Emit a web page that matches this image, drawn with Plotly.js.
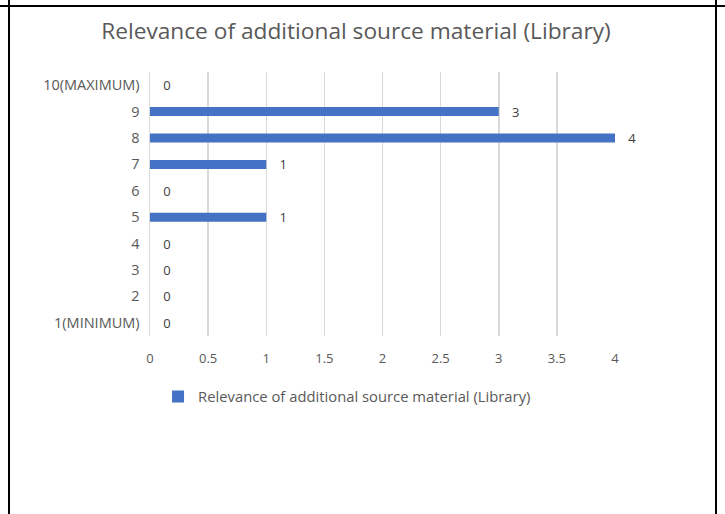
<!DOCTYPE html>
<html>
<head>
<meta charset="utf-8">
<script src="https://cdn.plot.ly/plotly-3.0.1.min.js"></script>
<style>
  html, body { margin: 0; padding: 0; background: #fff; }
  #wrap { position: relative; width: 725px; height: 514px; overflow: hidden; }
  #chart { position: absolute; left: 0; top: 0; width: 725px; height: 514px; }
  .ln { position: absolute; background: #000; }
</style>
</head>
<body>
<div id="wrap">
  <div id="chart"></div>
  <div class="ln" style="left:0;top:5px;width:725px;height:2px;"></div>
  <div class="ln" style="left:8px;top:0;width:2px;height:514px;"></div>
  <div class="ln" style="left:715px;top:0;width:2px;height:514px;"></div>
</div>
<script>
const categories = ['1(MINIMUM)', '2', '3', '4', '5', '6', '7', '8', '9', '10(MAXIMUM)'];
const counts = [0, 0, 0, 0, 1, 0, 1, 4, 3, 0];
const xTicks = [0, 0.5, 1, 1.5, 2, 2.5, 3, 3.5, 4];
const seriesName = 'Relevance of additional source material (Library)';
const chartTitle = 'Relevance of additional source material (Library)';

const font = '"Open Sans", Lato, sans-serif';

const trace = {
  type: 'bar',
  orientation: 'h',
  y: categories,
  x: counts,
  name: seriesName,
  marker: { color: '#4472C4' },
  texttemplate: '\u00a0\u00a0\u00a0%{x}',
  textposition: 'outside',
  constraintext: 'none',
  textfont: { family: font, size: 13, color: '#404040' },
  cliponaxis: false,
  showlegend: true,
  hoverinfo: 'x+y'
};

const layout = {
  width: 725,
  height: 514,
  margin: { l: 150, r: 110, t: 72, b: 178 },
  paper_bgcolor: '#ffffff',
  plot_bgcolor: '#ffffff',
  font: { family: font, size: 14, color: '#595959' },
  title: {
    text: chartTitle,
    font: { family: font, size: 22.7, color: '#595959' },
    xref: 'container', x: 0.491, xanchor: 'center',
    yref: 'container', y: 0.94, yanchor: 'middle'
  },
  bargap: 0.66,
  xaxis: {
    range: [0, 4],
    tickvals: xTicks,
    ticktext: xTicks.map(String),
    showgrid: true,
    gridcolor: '#D9D9D9',
    gridwidth: 1.5,
    zeroline: false,
    showline: false,
    ticks: '',
    ticklabelstandoff: 13,
    tickfont: { family: font, size: 13, color: '#595959' },
    fixedrange: true
  },
  yaxis: {
    type: 'category',
    categoryorder: 'array',
    categoryarray: categories,
    showgrid: false,
    zeroline: false,
    showline: true,
    linecolor: '#D9D9D9',
    linewidth: 1.5,
    ticks: '',
    ticklabelstandoff: 6,
    tickfont: { family: font, size: 14.5, color: '#595959' },
    fixedrange: true
  },
  showlegend: true,
  legend: {
    orientation: 'h',
    xref: 'container', x: 0.218, xanchor: 'left',
    yref: 'container', y: 0.228, yanchor: 'middle',
    font: { family: font, size: 14.8, color: '#595959' },
    itemwidth: 30
  }
};

Plotly.newPlot('chart', [trace], layout, { displayModeBar: false, staticPlot: true });
</script>
</body>
</html>
